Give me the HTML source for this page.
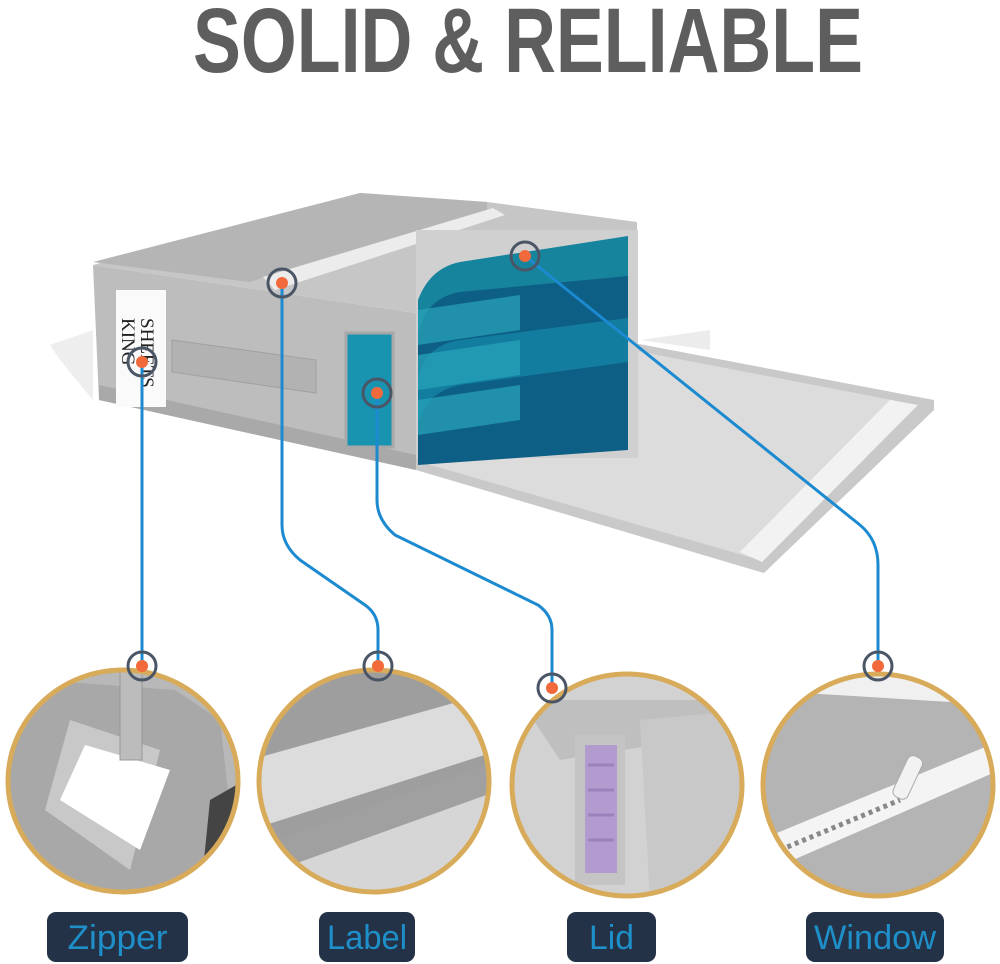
<!DOCTYPE html>
<html><head><meta charset="utf-8"><style>
html,body{margin:0;padding:0;background:#fff;width:1000px;height:964px;overflow:hidden}
svg{display:block}
</style></head><body>
<svg width="1000" height="964" viewBox="0 0 1000 964" xmlns="http://www.w3.org/2000/svg">
<defs>
<clipPath id="c1"><ellipse cx="123" cy="781" rx="115" ry="111"/></clipPath>
<clipPath id="c2"><ellipse cx="374" cy="781" rx="115" ry="111"/></clipPath>
<clipPath id="c3"><ellipse cx="627" cy="785" rx="115" ry="111"/></clipPath>
<clipPath id="c4"><ellipse cx="878" cy="785" rx="115" ry="111"/></clipPath>
</defs>
<text x="193" y="72" font-family="Liberation Sans, sans-serif" font-weight="bold" font-size="92" fill="#5e5e5e" textLength="670" lengthAdjust="spacingAndGlyphs">SOLID &amp; RELIABLE</text>

<polygon points="50,345 93,330 93,400 60,360" fill="#eeeeee"/>
<polygon points="640,340 710,330 710,350" fill="#ececec"/>
<polygon points="416,320 634,343 934,400 934,410 764,573 416,470" fill="#c9c9c9"/>
<polygon points="420,330 632,350 918,405 760,560 420,462" fill="#dcdcdc"/>
<polygon points="890,400 918,405 762,562 740,552" fill="#f2f2f2"/>
<polygon points="93,265 416,313 416,470 99,400" fill="#bdbdbd"/>
<polygon points="99,385 416,455 416,470 99,400" fill="#a9a9a9"/>
<polygon points="93,265 360,193 487,202 637,222 637,230 416,313" fill="#c6c6c6"/>
<polygon points="93,262 360,193 487,202 487,212 249,282" fill="#b5b5b5"/>
<polygon points="263,277 493,208 505,215 275,290" fill="#ececec"/>
<rect x="416" y="230" width="222" height="228" fill="#d0d0d0"/>
<path d="M418,300 Q430,268 460,262 L628,236 L628,300 L418,335 Z" fill="#17849d"/>
<path d="M418,335 Q425,298 460,292 L628,276 L628,350 L418,380 Z" fill="#0e5f86"/>
<path d="M418,380 Q425,345 460,340 L628,318 L628,400 L418,425 Z" fill="#137da0"/>
<path d="M418,425 Q425,392 460,385 L628,362 L628,450 L418,465 Z" fill="#0e5f86"/>
<path d="M418,310 L520,295 L520,330 L418,345Z M418,355 L520,340 L520,375 L418,390Z M418,400 L520,385 L520,420 L418,435Z" fill="#2aa5bb" opacity="0.7"/>
<rect x="346" y="333" width="47" height="114" fill="#1894b0" stroke="#a8a8a8" stroke-width="3"/>
<rect x="116" y="290" width="50" height="117" fill="#fafafa"/>
<text transform="translate(122,318) rotate(90)" font-family="Liberation Serif, serif" font-size="19" fill="#222">KING</text>
<text transform="translate(141,318) rotate(90)" font-family="Liberation Serif, serif" font-size="19" fill="#222">SHEETS</text>
<path d="M172,340 L316,360 L316,393 L172,372 Z" fill="#b2b2b2" stroke="#a0a0a0"/>

<g clip-path="url(#c1)">
<rect x="0" y="660" width="250" height="240" fill="#b8b8b8"/>
<polygon points="40,680 175,690 220,720 240,900 0,900 0,780" fill="#a8a8a8"/>
<polygon points="70,720 160,750 130,870 45,810" fill="#c8c8c8"/>
<polygon points="85,745 170,770 140,850 60,800" fill="#ffffff"/>
<polygon points="210,800 245,780 245,900 200,900" fill="#444"/>
<rect x="120" y="670" width="22" height="90" fill="#bcbcbc" stroke="#999"/>
</g>
<g clip-path="url(#c2)">
<rect x="250" y="660" width="250" height="240" fill="#9e9e9e"/>
<polygon points="250,760 500,690 500,750 250,830" fill="#dcdcdc"/>
<polygon points="250,850 500,760 500,790 250,880" fill="#a0a0a0"/>
<polygon points="250,880 500,790 500,860 250,930" fill="#d6d6d6"/>
</g>
<g clip-path="url(#c3)">
<rect x="505" y="670" width="250" height="230" fill="#d2d2d2"/>
<polygon points="520,700 720,700 750,730 560,760" fill="#bfbfbf"/>
<rect x="575" y="735" width="50" height="150" fill="#c4c4c4"/>
<rect x="585" y="745" width="32" height="128" fill="#b29ccf"/>
<path d="M588,765 h26 M588,790 h26 M588,815 h26 M588,840 h26" stroke="#9a82bb" stroke-width="3"/>
<polygon points="640,720 750,710 750,900 650,900" fill="#c8c8c8"/>
</g>
<g clip-path="url(#c4)">
<rect x="755" y="670" width="250" height="230" fill="#b4b4b4"/>
<polygon points="755,670 1000,670 1000,705 755,690" fill="#f0f0f0"/>
<polygon points="760,840 990,745 1000,770 770,870" fill="#f4f4f4"/>
<path d="M780,850 L900,800" stroke="#888" stroke-width="5" stroke-dasharray="4 4"/>
<rect x="900" y="755" width="16" height="45" rx="6" fill="#f2f2f2" stroke="#aaa" transform="rotate(25 908 777)"/>
</g>
<g fill="none" stroke="#d8ab5b" stroke-width="5">
<ellipse cx="123" cy="781" rx="115" ry="111"/>
<ellipse cx="374" cy="781" rx="115" ry="111"/>
<ellipse cx="627" cy="785" rx="115" ry="111"/>
<ellipse cx="878" cy="785" rx="115" ry="111"/>
</g>

<g fill="none" stroke="#1c8ad0" stroke-width="3">
<path d="M142,362 L142,665"/>
<path d="M282,283 L282,525 Q282,545 300,560 L365,605 Q378,614 378,630 L378,665"/>
<path d="M377,393 L377,500 Q377,520 395,535 L538,605 Q552,615 552,630 L552,688"/>
<path d="M525,256 L860,525 Q878,540 878,565 L878,665"/>
</g>
<g fill="none" stroke="#4a5566" stroke-width="3">
<circle cx="142" cy="362" r="14"/><circle cx="282" cy="283" r="14"/><circle cx="377" cy="393" r="14"/><circle cx="525" cy="256" r="14"/>
<circle cx="142" cy="666" r="14"/><circle cx="378" cy="666" r="14"/><circle cx="552" cy="688" r="14"/><circle cx="878" cy="666" r="14"/>
</g>
<g fill="#f26a3c">
<circle cx="142" cy="362" r="6"/><circle cx="282" cy="283" r="6"/><circle cx="377" cy="393" r="6"/><circle cx="525" cy="256" r="6"/>
<circle cx="142" cy="666" r="6"/><circle cx="378" cy="666" r="6"/><circle cx="552" cy="688" r="6"/><circle cx="878" cy="666" r="6"/>
</g>

<g fill="#243247">
<rect x="47" y="912" width="141" height="50" rx="9"/>
<rect x="319" y="912" width="96" height="50" rx="9"/>
<rect x="567" y="912" width="89" height="50" rx="9"/>
<rect x="806" y="912" width="138" height="50" rx="9"/>
</g>
<g font-family="Liberation Sans, sans-serif" font-size="34" fill="#1e8fc8" text-anchor="middle">
<text x="117.5" y="949" textLength="100" lengthAdjust="spacingAndGlyphs">Zipper</text>
<text x="367" y="949" textLength="80" lengthAdjust="spacingAndGlyphs">Label</text>
<text x="611.5" y="949" textLength="45" lengthAdjust="spacingAndGlyphs">Lid</text>
<text x="875" y="949" textLength="122" lengthAdjust="spacingAndGlyphs">Window</text>
</g>
</svg>
</body></html>
